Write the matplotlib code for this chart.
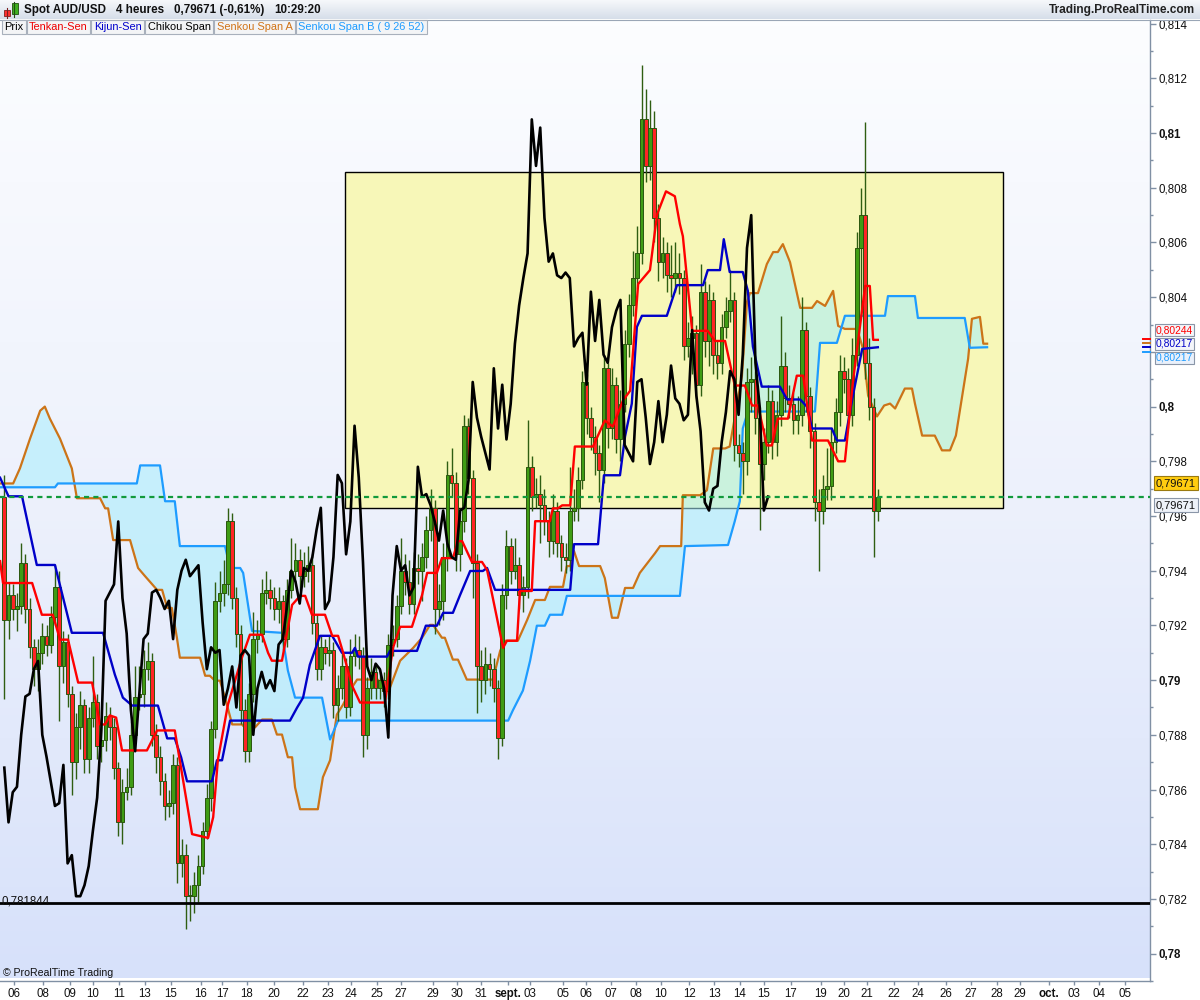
import numpy as np
import matplotlib
matplotlib.use("Agg")
import matplotlib.pyplot as plt
from matplotlib.patches import Rectangle
from matplotlib.lines import Line2D
from matplotlib.colors import LinearSegmentedColormap

plt.rcParams['font.family'] = ['Liberation Sans', 'DejaVu Sans']

# ---------------- data ----------------
first_open = 0.7967
closes = [
    0.7922, 0.7931, 0.7926, 0.7927, 0.7943, 0.7926, 0.7912, 0.7904, 0.7910, 0.7916,
    0.7913, 0.7923, 0.7934, 0.7905, 0.7914, 0.7895, 0.7870, 0.7883, 0.7891, 0.7871,
    0.7886, 0.7892, 0.7876, 0.7878, 0.7887, 0.7883, 0.7868, 0.7848, 0.7859, 0.7861,
    0.7880, 0.7894, 0.7895, 0.7904, 0.7907,
    0.7880, 0.7872, 0.7863, 0.7854, 0.7855, 0.7869, 0.7833, 0.7836, 0.7821, 0.7821,
    0.7825, 0.7832, 0.7845, 0.7857, 0.7882, 0.7929, 0.7932, 0.7935, 0.7958, 0.7930,
    0.7917, 0.7889, 0.7874, 0.7895, 0.7915, 0.7917, 0.7932, 0.7933, 0.7930, 0.7926,
    0.7929, 0.7915, 0.7933, 0.7940, 0.7944,
    0.7938, 0.7940, 0.7942, 0.7921, 0.7904, 0.7912, 0.7910, 0.7911, 0.7891, 0.7897,
    0.7905, 0.7890, 0.7909, 0.7911, 0.7909, 0.7880, 0.7897, 0.7903, 0.7897, 0.7900,
    0.7896, 0.7913, 0.7915, 0.7927, 0.7940, 0.7936, 0.7928, 0.7941, 0.7940, 0.7945,
    0.7955, 0.7963, 0.7926, 0.7929, 0.7945,
    0.7975, 0.7972, 0.7946, 0.7958, 0.7993, 0.7974, 0.7943, 0.7905, 0.7900, 0.7906,
    0.7904, 0.7897, 0.7879, 0.7931, 0.7949, 0.7940, 0.7942, 0.7931, 0.7934, 0.7978,
    0.7967, 0.7968, 0.7964, 0.7958, 0.7951, 0.7962, 0.7950, 0.7945, 0.7944, 0.7962,
    0.7963, 0.7973, 0.8009, 0.7996,
    0.7989, 0.7983, 0.7977, 0.8014, 0.7992, 0.8008, 0.7988, 0.8001, 0.8023, 0.8037,
    0.8047, 0.8056, 0.8105, 0.8088, 0.8102, 0.8069, 0.8053, 0.8056, 0.8048, 0.8047,
    0.8049, 0.8047, 0.8022, 0.8025, 0.8027, 0.8008, 0.8042, 0.8024, 0.8039, 0.8019,
    0.8016, 0.8029, 0.8035, 0.8039, 0.7986,
    0.7983, 0.7980, 0.8009, 0.8010, 0.7996, 0.7979, 0.7987, 0.8002, 0.7987, 0.7997,
    0.8015, 0.8003, 0.8001, 0.7995, 0.7997, 0.8028, 0.8004, 0.7991, 0.7965, 0.7962,
    0.7970, 0.7971, 0.7987, 0.7998, 0.8013, 0.8010, 0.7997, 0.8019, 0.8058, 0.8070,
    0.8016, 0.8000, 0.7962, 0.79671,
]
highs = [
    0.7975, 0.7936, 0.7935, 0.7932, 0.7950, 0.7946, 0.7930, 0.7915, 0.7915, 0.7921,
    0.7920, 0.7927, 0.7942, 0.7940, 0.7918, 0.7917, 0.7898, 0.7888, 0.7896, 0.7893,
    0.7890, 0.7909, 0.7895, 0.7884, 0.7892, 0.7890, 0.7886, 0.7870, 0.7864, 0.7868,
    0.7885, 0.7905, 0.7905, 0.7911, 0.7914,
    0.7910, 0.7884, 0.7876, 0.7866, 0.7860, 0.7873, 0.7872, 0.7842, 0.7840, 0.7825,
    0.7830, 0.7836, 0.7848, 0.7862, 0.7885, 0.7936, 0.7940, 0.7944, 0.7963, 0.7961,
    0.7934, 0.7920, 0.7893, 0.7899, 0.7925, 0.7922, 0.7937, 0.7940, 0.7937, 0.7934,
    0.7934, 0.7931, 0.7937, 0.7952, 0.7950,
    0.7948, 0.7947, 0.7949, 0.7946, 0.7924, 0.7916, 0.7915, 0.7916, 0.7914, 0.7902,
    0.7910, 0.7908, 0.7915, 0.7917, 0.7916, 0.7912, 0.7901, 0.7908, 0.7906, 0.7904,
    0.7903, 0.7917, 0.7920, 0.7931, 0.7952, 0.7946, 0.7944, 0.7947, 0.7946, 0.7950,
    0.7960, 0.7970, 0.7966, 0.7935, 0.7950,
    0.7980, 0.7985, 0.7976, 0.7963, 0.7997, 0.7996, 0.7977, 0.7946, 0.7911, 0.7912,
    0.7910, 0.7908, 0.7900, 0.7935, 0.7955, 0.7952, 0.7952, 0.7945, 0.7938, 0.7995,
    0.7982, 0.7974, 0.7975, 0.7970, 0.7962, 0.7968, 0.7965, 0.7953, 0.7950, 0.7978,
    0.7970, 0.7978, 0.8013, 0.8012,
    0.8000, 0.7993, 0.7986, 0.8019, 0.8016, 0.8014, 0.8011, 0.8006, 0.8028, 0.8041,
    0.8057, 0.8066, 0.8125, 0.8116, 0.8112, 0.8108, 0.8074, 0.8062, 0.8060, 0.8059,
    0.8060, 0.8056, 0.8050, 0.8031, 0.8033, 0.8030, 0.8052, 0.8046, 0.8045, 0.8042,
    0.8024, 0.8034, 0.8040, 0.8050, 0.8042,
    0.7990, 0.7987, 0.8014, 0.8018, 0.8013, 0.8000, 0.7992, 0.8008, 0.8006, 0.8002,
    0.8033, 0.8020, 0.8008, 0.8005, 0.8004, 0.8040, 0.8031, 0.8007, 0.7994, 0.7970,
    0.7975, 0.7985, 0.7992, 0.8003, 0.8019, 0.8018, 0.8014, 0.8025, 0.8064, 0.8080,
    0.8104, 0.8025, 0.8003, 0.7970,
]
lows = [
    0.7893, 0.7915, 0.7922, 0.7918, 0.7924, 0.7921, 0.7908, 0.7898, 0.7896, 0.7906,
    0.7909, 0.7910, 0.7920, 0.7885, 0.7899, 0.7890, 0.7858, 0.7864, 0.7875, 0.7866,
    0.7866, 0.7883, 0.7871, 0.7870, 0.7874, 0.7878, 0.7864, 0.7843, 0.7840, 0.7856,
    0.7858, 0.7877, 0.7889, 0.7890, 0.7900,
    0.7876, 0.7866, 0.7858, 0.7849, 0.7850, 0.7851, 0.7826, 0.7828, 0.7809, 0.7812,
    0.7815, 0.7819, 0.7829, 0.7842, 0.7852, 0.7879, 0.7925, 0.7927, 0.7931, 0.7926,
    0.7912, 0.7884, 0.7870, 0.7870, 0.7892, 0.7910, 0.7914, 0.7928, 0.7926, 0.7922,
    0.7921, 0.7911, 0.7912, 0.7930, 0.7936,
    0.7933, 0.7934, 0.7936, 0.7917, 0.7900, 0.7900, 0.7906, 0.7905, 0.7886, 0.7885,
    0.7893, 0.7886, 0.7887, 0.7905, 0.7904, 0.7872, 0.7875, 0.7893, 0.7893, 0.7893,
    0.7890, 0.7893, 0.7909, 0.7912, 0.7924, 0.7931, 0.7924, 0.7924, 0.7935, 0.7929,
    0.7941, 0.7951, 0.7917, 0.7920, 0.7922,
    0.7940, 0.7967, 0.7940, 0.7940, 0.7954, 0.7968, 0.7930, 0.7888, 0.7892, 0.7895,
    0.7898, 0.7892, 0.7871, 0.7876, 0.7926, 0.7935, 0.7937, 0.7926, 0.7925, 0.7930,
    0.7962, 0.7963, 0.7950, 0.7953, 0.7945, 0.7946, 0.7945, 0.7940, 0.7939, 0.7940,
    0.7958, 0.7958, 0.7970, 0.7990,
    0.7984, 0.7975, 0.7965, 0.7972, 0.7985, 0.7988, 0.7983, 0.7980, 0.7998, 0.8018,
    0.8033, 0.8043, 0.8052, 0.8082, 0.8083, 0.8060, 0.8046, 0.8047, 0.8042, 0.8040,
    0.8042, 0.8041, 0.8017, 0.8018, 0.8012, 0.8003, 0.8004, 0.8018, 0.8015, 0.8012,
    0.8010, 0.8012, 0.8025, 0.8031, 0.7980,
    0.7978, 0.7968, 0.7975, 0.7998, 0.7990, 0.7955, 0.7973, 0.7983, 0.7981, 0.7982,
    0.7993, 0.7998, 0.7996, 0.7990, 0.7990, 0.7993, 0.7998, 0.7985, 0.7958, 0.7940,
    0.7957, 0.7966, 0.7966, 0.7983, 0.7993, 0.8005, 0.7992, 0.7993, 0.8015, 0.8033,
    0.8010, 0.7995, 0.7945, 0.7958,
]
chikou_shift = 26

# Ichimoku lines: knots (bar index, price)
tenkan_bars = [-1.0, -0.3, 6.6, 8.9, 11.5, 13.2, 15.1, 17.5, 20.8, 22.7, 23.9, 25.0, 26.5, 27.9, 33.8,
               36.2, 40.4, 44.5, 48.3, 49.5, 50.6, 53.0, 56.3, 58.2, 61.1, 62.5, 63.4, 65.8, 68.2, 70.1,
               71.3, 72.9, 76.0, 77.7, 79.1, 80.3, 82.4, 84.3, 90.2, 92.1, 93.8, 96.6, 99.0, 100.2, 102.5,
               103.7, 106.3, 107.5, 108.5, 110.8, 113.2, 114.4, 118.2, 119.1, 121.5, 122.2, 125.0, 125.8,
               129.3, 130.0, 131.2, 132.2, 134.1, 135.2, 139.5, 142.3, 144.2, 146.6, 148.3, 150.2, 153.0,
               154.7, 156.8, 158.9, 160.1, 160.8, 163.0, 166.7, 168.4, 170.8, 173.1, 175.5, 177.2, 178.6,
               180.7, 181.9, 183.3, 185.7, 187.8, 189.3, 191.4, 195.2, 197.6, 199.2, 201.1, 204.0, 205.1,
               205.9, 207.0]
tenkan_vals = [0.79435, 0.79355, 0.79355, 0.79239, 0.79239, 0.79148, 0.79148, 0.78991, 0.78991, 0.78838,
               0.78838, 0.78871, 0.78863, 0.78743, 0.78743, 0.78816, 0.78816, 0.78437, 0.78423, 0.78499,
               0.78707, 0.78911, 0.79082, 0.79166, 0.79166, 0.79100, 0.79071, 0.79071, 0.79275, 0.79308,
               0.79308, 0.79239, 0.79239, 0.79162, 0.79162, 0.79100, 0.78980, 0.78918, 0.78918, 0.79118,
               0.79195, 0.79195, 0.79311, 0.79392, 0.79392, 0.79446, 0.79446, 0.79508, 0.79508, 0.79432,
               0.79432, 0.79403, 0.79118, 0.79144, 0.79144, 0.79326, 0.79326, 0.79581, 0.79581, 0.79628,
               0.79628, 0.79639, 0.79639, 0.79854, 0.79854, 0.79949, 0.79927, 0.80022, 0.80058, 0.80448,
               0.80499, 0.80703, 0.80787, 0.80769, 0.80667, 0.80623, 0.80277, 0.80277, 0.80240, 0.80240,
               0.80077, 0.80077, 0.80004, 0.80004, 0.79858, 0.79858, 0.79956, 0.79956, 0.80113, 0.80113,
               0.79876, 0.79876, 0.79800, 0.79800, 0.80091, 0.80441, 0.80441, 0.80244, 0.80244]

kijun_bars = [-1.0, 1.0, 4.2, 7.7, 12.0, 16.0, 23.4, 26.2, 28.1, 30.3, 36.4, 38.6, 40.4, 41.9, 43.3, 49.2,
              50.4, 51.6, 53.5, 67.7, 69.4, 70.8, 72.4, 74.8, 77.7, 80.0, 82.4, 83.1, 83.8, 90.7, 91.4,
              97.8, 99.9, 102.5, 104.0, 106.3, 108.0, 110.4, 113.4, 114.4, 116.3, 134.1, 135.0, 140.7,
              142.1, 145.9, 147.1, 148.7, 149.9, 151.1, 157.0, 159.4, 165.6, 166.7, 169.6, 170.5, 171.9,
              175.0, 176.2, 177.4, 179.5, 183.8, 185.5, 188.6, 190.2, 191.4, 196.1, 197.3, 199.2, 201.1,
              203.3, 207.0]
kijun_vals = [0.79740, 0.79672, 0.79672, 0.79421, 0.79421, 0.79173, 0.79173, 0.79020, 0.78936, 0.78907,
              0.78907, 0.78787, 0.78787, 0.78718, 0.78630, 0.78630, 0.78707, 0.78707, 0.78852, 0.78852,
              0.78900, 0.78936, 0.79056, 0.79162, 0.79162, 0.79100, 0.79100, 0.79118, 0.79086, 0.79086,
              0.79107, 0.79107, 0.79199, 0.79199, 0.79246, 0.79246, 0.79311, 0.79399, 0.79399, 0.79410,
              0.79330, 0.79330, 0.79497, 0.79497, 0.79749, 0.79749, 0.79891, 0.80011, 0.80291, 0.80332,
              0.80332, 0.80444, 0.80444, 0.80499, 0.80499, 0.80612, 0.80492, 0.80492, 0.80423, 0.80219,
              0.80073, 0.80073, 0.80026, 0.80026, 0.80000, 0.79920, 0.79920, 0.79876, 0.79876, 0.80040,
              0.80211, 0.80217]

senkou_a_bars = [-1.0, 2.1, 3.7, 6.1, 8.5, 9.6, 10.8, 13.2, 16.0, 17.2, 22.7, 23.9, 24.6, 25.8, 29.8, 31.7,
                 33.3, 36.2, 37.4, 38.6, 39.7, 40.9, 41.6, 46.4, 47.6, 48.7, 49.9, 51.1, 52.3, 54.0, 56.3,
                 57.0, 59.4, 61.1, 63.4, 64.6, 65.8, 67.2, 68.2, 68.9, 70.1, 74.3, 75.5, 77.2, 78.8, 80.3,
                 81.9, 83.6, 88.5, 90.2, 91.4, 93.8, 96.9, 99.0, 100.9, 101.6, 103.7, 104.4, 106.3, 107.5,
                 109.6, 115.8, 117.5, 118.6, 121.7, 123.9, 125.8, 128.1, 129.3, 132.4, 133.3, 134.1, 135.0,
                 136.2, 141.2, 142.3, 144.0, 145.4, 147.1, 149.0, 150.6, 154.2, 155.4, 160.4, 160.8, 164.9,
                 166.5, 168.0, 170.8, 171.9, 173.6, 174.8, 176.0, 176.7, 178.6, 180.7, 182.2, 183.3, 184.5,
                 186.2, 188.6, 191.4, 192.6, 194.5, 196.4, 197.6, 199.2, 202.1, 203.5, 204.7, 206.8, 208.5,
                 209.9, 211.1, 213.4, 215.1, 215.8, 217.5, 220.5, 222.2, 224.1, 225.5, 226.9, 228.4, 229.3,
                 231.2, 232.0, 232.9]
senkou_a_vals = [0.79719, 0.79719, 0.79774, 0.79883, 0.79985, 0.80000, 0.79956, 0.79883, 0.79774, 0.79665,
                 0.79665, 0.79628, 0.79628, 0.79512, 0.79512, 0.79410, 0.79381, 0.79330, 0.79330, 0.79264,
                 0.79264, 0.79155, 0.79082, 0.79082, 0.79016, 0.79016, 0.78998, 0.78998, 0.78936, 0.78838,
                 0.78838, 0.78827, 0.78827, 0.78856, 0.78856, 0.78801, 0.78801, 0.78718, 0.78718, 0.78608,
                 0.78528, 0.78528, 0.78645, 0.78707, 0.78874, 0.78911, 0.78962, 0.79002, 0.79002, 0.78962,
                 0.78973, 0.79071, 0.79118, 0.79155, 0.79202, 0.79202, 0.79155, 0.79155, 0.79075, 0.79075,
                 0.79002, 0.79002, 0.79107, 0.79144, 0.79144, 0.79220, 0.79293, 0.79293, 0.79341, 0.79341,
                 0.79417, 0.79417, 0.79472, 0.79417, 0.79417, 0.79373, 0.79228, 0.79228, 0.79337, 0.79337,
                 0.79392, 0.79464, 0.79490, 0.79490, 0.79676, 0.79676, 0.79694, 0.79847, 0.79847, 0.79854,
                 0.80004, 0.80113, 0.80383, 0.80415, 0.80415, 0.80521, 0.80565, 0.80565, 0.80594, 0.80528,
                 0.80361, 0.80361, 0.80386, 0.80368, 0.80423, 0.80295, 0.80284, 0.80284, 0.80211, 0.80040,
                 0.79964, 0.80004, 0.80011, 0.79993, 0.80066, 0.80066, 0.80011, 0.79894, 0.79894, 0.79840,
                 0.79840, 0.79894, 0.80029, 0.80175, 0.80321, 0.80328, 0.80230, 0.80230]

senkou_b_bars = [-1.0, 12.0, 12.7, 31.4, 32.2, 36.9, 38.1, 40.4, 41.6, 52.3, 53.5, 55.9, 56.6, 58.7, 65.8,
                 67.2, 68.9, 75.3, 77.2, 79.1, 119.4, 120.5, 122.9, 124.6, 126.2, 128.1, 129.3, 132.2,
                 133.3, 160.1, 161.3, 171.5, 173.1, 174.3, 175.0, 176.2, 192.1, 193.3, 197.3, 199.2, 208.7,
                 209.4, 215.8, 216.5, 227.6, 228.8, 232.9]
senkou_b_vals = [0.79705, 0.79705, 0.79719, 0.79719, 0.79785, 0.79785, 0.79654, 0.79654, 0.79490, 0.79490,
                 0.79410, 0.79410, 0.79392, 0.79180, 0.79173, 0.79035, 0.78936, 0.78936, 0.78783, 0.78852,
                 0.78852, 0.78889, 0.78962, 0.79071, 0.79199, 0.79199, 0.79239, 0.79239, 0.79308, 0.79308,
                 0.79490, 0.79494, 0.79581, 0.79654, 0.79920, 0.79982, 0.79982, 0.80233, 0.80233, 0.80332,
                 0.80332, 0.80404, 0.80404, 0.80324, 0.80324, 0.80215, 0.80217]

# zone rectangle (bars, prices) and horizontal levels
zone_bars = (80.7, 236.7)
zone_prices = (0.79628, 0.80856)
support_level = 0.781844
last_price = 0.79671

date_labels = ["06", "08", "09", "10", "11", "13", "15", "16", "17", "18", "20", "22", "23", "24", "25",
               "27", "29", "30", "31", "sept.", "03", "05", "06", "07", "08", "10", "12", "13", "14", "15",
               "17", "19", "20", "21", "22", "24", "26", "27", "28", "29", "oct.", "03", "04", "05"]
date_bars = [2.3, 9.2, 15.6, 21.0, 27.2, 33.3, 39.5, 46.6, 51.6, 57.5, 63.9, 70.8, 76.7, 82.2, 88.3,
             94.0, 101.6, 107.3, 113.0, 119.4, 124.6, 132.4, 137.8, 143.8, 149.7, 155.6, 162.3, 168.2,
             174.3, 180.0, 186.4, 193.5, 199.0, 204.4, 210.8, 216.5, 223.2, 229.1, 235.2, 240.7, 247.6,
             253.5, 259.4, 265.6]

title_parts = ['Spot AUD/USD', '4 heures', '0,79671 (-0,61%)', '10:29:20']
legend_labels = ['Prix', 'Tenkan-Sen', 'Kijun-Sen', 'Chikou Span', 'Senkou Span A',
                 'Senkou Span B ( 9 26 52)']
legend_colors = ['#000000', '#ee0000', '#0000cc', '#000000', '#d07418', '#1e9cff']

# ---------------- figure ----------------
W, H = 1200, 1000
fig = plt.figure(figsize=(12, 10), dpi=100, facecolor='white')
renderer = fig.canvas.get_renderer()


def fx(x):
    return x / W


def fy(y):
    return 1 - y / H


def text_width_px(t):
    return t.get_window_extent(renderer=renderer).width


XMIN, XMAX = -1.02, 271.5
YMIN, YMAX = 0.779126, 0.814134
ax = fig.add_axes([0, fy(981), fx(1150), (981 - 20) / H])

grad = LinearSegmentedColormap.from_list('bg', ['#d7e1fa', '#edf1fc', '#fcfdff'])
ax.imshow(np.linspace(0, 1, 256).reshape(-1, 1)[::-1], extent=[XMIN, XMAX, YMIN, YMAX],
          aspect='auto', cmap=grad, zorder=0, interpolation='bilinear')

# zone rectangle
ax.add_patch(Rectangle((zone_bars[0], zone_prices[0]), zone_bars[1] - zone_bars[0],
                       zone_prices[1] - zone_prices[0], facecolor='#f7f7b8', edgecolor='black',
                       lw=1.0, zorder=1))

# cloud
grid = np.linspace(senkou_a_bars[0], senkou_a_bars[-1], 4000)
sa = np.interp(grid, senkou_a_bars, senkou_a_vals)
sb = np.interp(grid, senkou_b_bars, senkou_b_vals)
ax.fill_between(grid, sa, sb, color='#a6eefc', alpha=0.55, lw=0, zorder=2)
ax.plot(senkou_a_bars, senkou_a_vals, color='#cc7418', lw=1.6, zorder=3, solid_joinstyle='round')
ax.plot(senkou_b_bars, senkou_b_vals, color='#1e9cff', lw=1.6, zorder=3, solid_joinstyle='round')

# candles
c = np.array(closes)
o = np.r_[first_open, c[:-1]]
hi = np.maximum(np.array(highs), np.maximum(o, c))
lo = np.minimum(np.array(lows), np.minimum(o, c))
idx = np.arange(len(c))
up = c >= o
ax.vlines(idx, lo, hi, color='#2f5e12', lw=1.0, zorder=4)
body_h = np.maximum(np.abs(c - o), 0.00003)
body_b = np.minimum(o, c)
ax.bar(idx[up], body_h[up], bottom=body_b[up], width=0.86, color='#3f9c14',
       edgecolor='#2a560e', lw=0.7, zorder=5)
ax.bar(idx[~up], body_h[~up], bottom=body_b[~up], width=0.86, color='#ff2424',
       edgecolor='#2a560e', lw=0.7, zorder=5)

# tenkan / kijun / chikou
ax.plot(kijun_bars, kijun_vals, color='#0000c8', lw=1.7, zorder=6, solid_joinstyle='round')
ax.plot(tenkan_bars, tenkan_vals, color='#ff0000', lw=1.7, zorder=6, solid_joinstyle='round')
ax.plot(idx[chikou_shift:] - chikou_shift, c[chikou_shift:], color='black', lw=1.9, zorder=7,
        solid_joinstyle='round')

# levels
ax.axhline(support_level, color='black', lw=2.0, zorder=8)
ax.axhline(last_price, color='#129a3c', lw=1.6, ls=(0, (2.3, 1.9)), zorder=8)

ax.set_xlim(XMIN, XMAX)
ax.set_ylim(YMIN, YMAX)

# axes styling
for s in ['top', 'left']:
    ax.spines[s].set_visible(False)
for s in ['right', 'bottom']:
    ax.spines[s].set_color('#8090a4')
    ax.spines[s].set_linewidth(1.0)

yt = np.round(np.arange(0.780, 0.8141, 0.002), 3)
ax.yaxis.tick_right()
ax.set_yticks(yt)
ax.set_yticks(np.round(np.arange(0.779, 0.8141, 0.001), 3), minor=True)
# the 0,802 label is hidden behind the value boxes in the original
labels = ['' if abs(v - 0.802) < 1e-9 else ('%.3f' % v).rstrip('0').rstrip('.').replace('.', ',')
          for v in yt]
ax.set_yticklabels(labels)
for t, v in zip(ax.get_yticklabels(), yt):
    if abs(v * 100 - round(v * 100)) < 1e-6:
        t.set_fontweight('bold')
ax.tick_params(axis='y', which='major', direction='out', length=4, width=1, color='#8090a4',
               labelsize=8.3, pad=2, labelcolor='#111111')
ax.tick_params(axis='y', which='minor', direction='out', length=2, width=1, color='#8090a4')

ax.set_xticks(date_bars)
ax.set_xticklabels(date_labels)
for t, lab in zip(ax.get_xticklabels(), date_labels):
    if lab in ('sept.', 'oct.'):
        t.set_fontweight('bold')
ax.tick_params(axis='x', direction='out', length=3, width=1, color='#8090a4', labelsize=8.3,
               pad=2, labelcolor='#111111')

# ---------------- header ----------------
hdr = fig.add_axes([0, fy(19), 1, 19 / H])
hdr.imshow(np.linspace(0, 1, 64).reshape(-1, 1),
           cmap=LinearSegmentedColormap.from_list('h', ['#f6f8fb', '#d6dee9']),
           aspect='auto', extent=[0, 1, 0, 1])
hdr.set_axis_off()
fig.add_artist(Line2D([0, 1], [fy(19.5), fy(19.5)], color='#9aa6b6', lw=0.8))

# icon
fig.add_artist(Line2D([fx(7), fx(7)], [fy(8), fy(18)], color='#7a2020', lw=0.8))
fig.add_artist(Rectangle((fx(4), fy(16)), fx(6), 6 / H, facecolor='#ff3030', edgecolor='#802020', lw=0.6))
fig.add_artist(Line2D([fx(14), fx(14)], [fy(2), fy(17)], color='#205010', lw=0.8))
fig.add_artist(Rectangle((fx(11.5), fy(14)), fx(6), 11 / H, facecolor='#3fb020', edgecolor='#205010', lw=0.6))

xpos = 24
for part in title_parts:
    t = fig.text(fx(xpos), fy(10), part, fontsize=8.4, fontweight='bold', va='center', color='#111111')
    xpos += text_width_px(t) + 10
fig.text(fx(1195), fy(10), 'Trading.ProRealTime.com', fontsize=8.6, fontweight='bold', va='center',
         ha='right', color='#222222')

xpos = 4
for lab, col in zip(legend_labels, legend_colors):
    t = fig.text(fx(xpos), fy(27), lab, fontsize=7.9, color=col, va='center', ha='left',
                 bbox=dict(boxstyle='square,pad=0.22', facecolor='#f3f4f6', edgecolor='#a8b0bc', lw=0.8))
    xpos += text_width_px(t) + 6

# right axis value boxes
fig.add_artist(Line2D([fx(1143), fx(1150)], [fy(339), fy(339)], color='#ff0000', lw=1.4))
fig.add_artist(Line2D([fx(1143), fx(1150)], [fy(343), fy(343)], color='#cc7418', lw=1.4))
fig.add_artist(Line2D([fx(1143), fx(1150)], [fy(347), fy(347)], color='#0000c8', lw=1.4))
fig.add_artist(Line2D([fx(1143), fx(1150)], [fy(352), fy(352)], color='#1e9cff', lw=1.4))
box_kw = dict(boxstyle='square,pad=0.12', lw=0.8)
fig.text(fx(1156), fy(330), '0,80244', fontsize=7.4, color='#ff0000', va='center',
         bbox=dict(facecolor='#f4f6fa', edgecolor='#8a96a8', **box_kw))
fig.text(fx(1156), fy(344), '0,80217', fontsize=7.4, color='#0000c8', va='center',
         bbox=dict(facecolor='#f4f6fa', edgecolor='#8a96a8', **box_kw))
fig.text(fx(1156), fy(358), '0,80217', fontsize=7.4, color='#1e9cff', va='center',
         bbox=dict(facecolor='#eaf0fa', edgecolor='#8a96a8', **box_kw))
fig.text(fx(1156), fy(483), '0,79671', fontsize=8.0, color='#111111', va='center',
         bbox=dict(facecolor='#ffcc10', edgecolor='#9a7a10', boxstyle='square,pad=0.2', lw=0.8))
fig.text(fx(1156), fy(505), '0,79671', fontsize=8.0, color='#111111', va='center',
         bbox=dict(facecolor='#eef2f8', edgecolor='#8a96a8', boxstyle='square,pad=0.2', lw=0.8))

fig.text(fx(2), fy(901), '0,781844', fontsize=8.3, color='#111111', va='center')
fig.text(fx(3), fy(973), '\u00a9 ProRealTime Trading', fontsize=7.6, color='#111111', va='center')

fig.savefig('out.png', dpi=100, facecolor='white')
